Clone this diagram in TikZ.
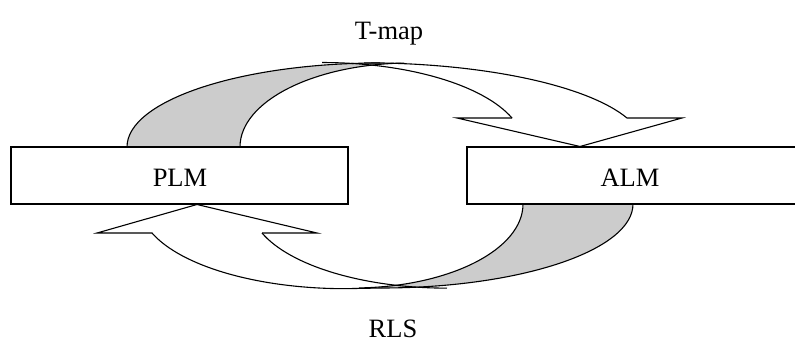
\documentclass[tikz,border=0pt]{standalone}
\usepackage{fontspec}
\setmainfont{Liberation Serif}
\definecolor{shadegray}{HTML}{CCCCCC}
\begin{document}
\begin{tikzpicture}[x=1pt,y=1pt,
  ribbon/.style={draw=black,line width=1.1pt,line join=miter},
  backside/.style={fill=shadegray},
  box/.style={draw=black,line width=1.6pt,fill=white,inner sep=0pt,outer sep=0pt,anchor=south west},
  lbl/.style={font=\fontsize{26.5}{30}\selectfont,anchor=base,inner sep=0pt}]
\useasboundingbox (0,0) rectangle (795,343);
\clip (0,0) rectangle (795,343);
% ---------- top arrow (T-map) ----------
\coordinate (tgo) at (127,196);
\coordinate (tgi) at (240,196);
\fill[backside] (tgo) arc[start angle=180,end angle=90,x radius=253,y radius=84]
   -- (410,280) arc[start angle=90,end angle=180,x radius=170,y radius=84] -- cycle;
\draw[ribbon] (tgo) arc[start angle=180,end angle=90,x radius=253,y radius=84];
\draw[ribbon] (tgi) arc[start angle=180,end angle=92,x radius=170,y radius=84];
\coordinate (tin) at (512,225);
\coordinate (tbl) at (457,225);
\coordinate (ttip) at (580,196.5);
\coordinate (tbr) at (682,225);
\coordinate (tout) at (627,225);
\draw[ribbon] (tin) -- (tbl) -- (ttip) -- (tbr) -- (tout)
   arc[start angle={acos(263/280)},end angle=90,x radius=280,y radius=84];
\draw[ribbon] (tin) arc[start angle={acos(190/202)},end angle=90,x radius=202,y radius=84];
% ---------- bottom arrow (RLS) ----------
\coordinate (bgo) at (633,139);
\coordinate (bgi) at (523,139);
\fill[backside] (bgo) arc[start angle=0,end angle=-90,x radius=252,y radius=84]
   -- (353,55) arc[start angle=-90,end angle=0,x radius=170,y radius=84] -- cycle;
\draw[ribbon] (bgo) arc[start angle=0,end angle=-90,x radius=252,y radius=84];
\draw[ribbon] (bgi) arc[start angle=0,end angle=-88,x radius=170,y radius=84];
\coordinate (bin) at (262,110);
\coordinate (bbr) at (317,110);
\coordinate (btip) at (197,138.5);
\coordinate (bbl) at (97,110);
\coordinate (bout) at (152,110);
\draw[ribbon] (bin) -- (bbr) -- (btip) -- (bbl) -- (bout)
   arc[start angle={180+acos(193/205)},end angle=270,x radius=205,y radius=84] -- (381,55);
\draw[ribbon] (bin) arc[start angle={180+acos(185/197)},end angle=270,x radius=197,y radius=84];
% ---------- boxes ----------
\node[box,minimum width=337pt,minimum height=57pt] (plmbox) at (11,139) {};
\node[box,minimum width=360pt,minimum height=57pt] (almbox) at (467,139) {};
\node[lbl] (plm) at (180,156) {PLM};
\node[lbl] (alm) at (630,156) {ALM};
\node[lbl] (tmap) at (389,303) {T-map};
\node[lbl] (rls) at (393,6) {RLS};
\end{tikzpicture}
\end{document}
